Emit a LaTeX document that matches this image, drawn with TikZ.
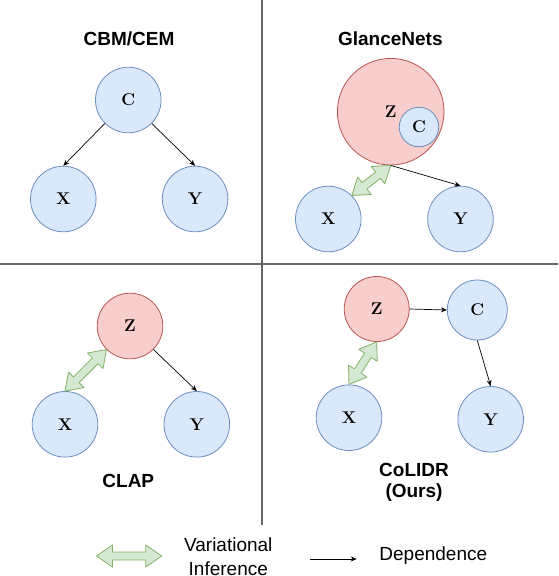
\documentclass[tikz,border=0pt]{standalone}
\usepackage{fontspec}
\setsansfont{Liberation Sans}
\usetikzlibrary{arrows.meta, calc, positioning}

\definecolor{cfill}{HTML}{DAE8FC}
\definecolor{cline}{HTML}{6C8EBF}
\definecolor{zfill}{HTML}{F8CECC}
\definecolor{zline}{HTML}{B85450}
\definecolor{vfill}{HTML}{D5E8D4}
\definecolor{vline}{HTML}{82B366}

% wide double arrow for variational inference
\newcommand{\viarrow}[2]{%
  \path[vi] let \p1=($(#2)-(#1)$), \n1={atan2(\y1,\x1)} in
    (#1) -- ($(#1)+(\n1:16pt)+(\n1+90:11pt)$) -- ($(#1)+(\n1:16pt)+(\n1+90:4pt)$)
    -- ($(#2)+(\n1:-16pt)+(\n1+90:4pt)$) -- ($(#2)+(\n1:-16pt)+(\n1+90:11pt)$)
    -- (#2) -- ($(#2)+(\n1:-16pt)+(\n1-90:11pt)$) -- ($(#2)+(\n1:-16pt)+(\n1-90:4pt)$)
    -- ($(#1)+(\n1:16pt)+(\n1-90:4pt)$) -- ($(#1)+(\n1:16pt)+(\n1-90:11pt)$) -- cycle;
}

\begin{document}
\begin{tikzpicture}[
x=1pt, y=-1pt,
every node/.style={
    inner sep=0pt,
    },
var/.style={
    circle,
    draw=cline,
    fill=cfill,
    line width=0.8pt,
    minimum size=65.6pt,
    font=\rmfamily\bfseries\fontsize{17}{20}\selectfont,
    },
lat/.style={
    var,
    draw=zline,
    fill=zfill,
    },
title/.style={
    align=center,
    font=\sffamily\bfseries\fontsize{19}{21}\selectfont,
    },
vi/.style={
    draw=vline,
    fill=vfill,
    line width=0.8pt,
    line join=round,
    },
divider/.style={
    draw=black!60,
    line width=1.5pt,
    },
every edge/.style={
    draw,
    line width=0.7pt,
    -{Stealth[length=6pt, width=5pt]},
    },
]
\useasboundingbox (0,0) rectangle (558,576);

\draw[divider] (262,0) -- (262,525);
\draw[divider] (0,264) -- (558,264);

% CBM/CEM
\node[title] (t1) at (129,39) {CBM/CEM};
\node[var] (c1) at (128.3,100) {C};
\node[var] (x1) at (63.3,199) {X};
\node[var] (y1) [right=65.4pt of x1] {Y};
\path (c1.south west) edge (x1.north)
      (c1.south east) edge (y1.north);

% GlanceNets
\node[title] (t2) at (390.3,39) {GlanceNets};
\node[lat, minimum size=106.6pt] (z2) at (390.7,111.7) {Z};
\node[var, minimum size=39.5pt] (c2) at (419,127) {C};
\node[var] (x2) at (328.3,219) {X};
\node[var] (y2) [right=65.8pt of x2] {Y};
\viarrow{x2.north east}{z2.south}
\path (z2.south) edge (y2.north);

% CLAP
\node[lat] (z3) at (130,326) {Z};
\node[var] (x3) at (65,424.3) {X};
\node[var] (y3) [right=65.4pt of x3] {Y};
\node[title] (t3) at (128.3,480.7) {CLAP};
\viarrow{x3.north}{z3.south west}
\path (z3.south east) edge (y3.north);

% CoLIDR
\node[lat, minimum size=65pt] (z4) at (376.7,309) {Z};
\node[var, minimum size=60pt] (c4) at (477.3,310) {C};
\node[var] (x4) at (349,417.7) {X};
\node[var] (y4) at (490.7,419.3) {Y};
\node[title] (t4) at (414,482) {CoLIDR\\(Ours)};
\viarrow{x4.north}{z4.south}
\path (z4.east) edge (c4.west)
      (c4.south) edge (y4.north);

% legend
\coordinate (va) at (96.5,556);
\coordinate (vb) at (161.7,556);
\viarrow{va}{vb}
\node[align=center, font=\sffamily\fontsize{19}{24}\selectfont] (vt) at (228.3,557)
     {Variational\\Inference};
\coordinate (da) at (310,559);
\coordinate (db) at (356.7,559);
\path (da) edge (db);
\node[font=\sffamily\fontsize{19}{24}\selectfont] (dt) at (433.3,556) {Dependence};
\end{tikzpicture}
\end{document}
